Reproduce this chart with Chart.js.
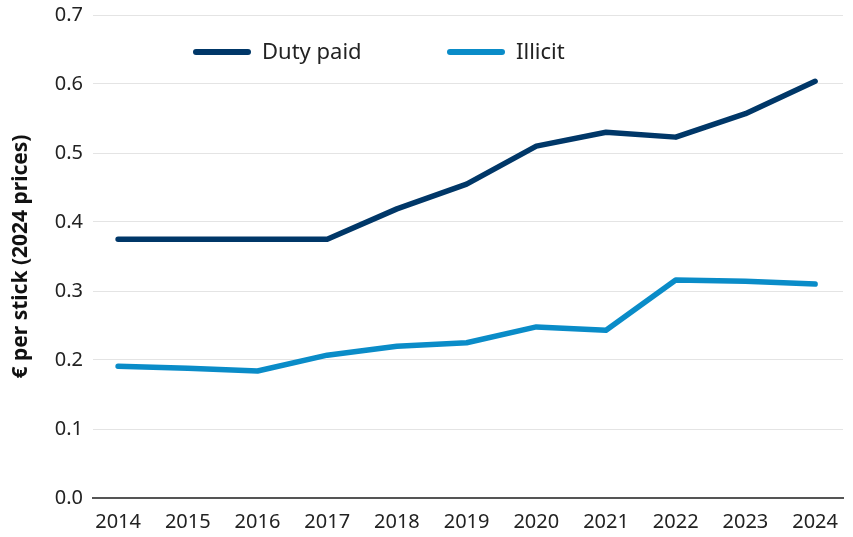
<!DOCTYPE html>
<html lang="en">
<head>
    <meta charset="UTF-8">
    <title>Duty paid vs illicit price per stick</title>
    <style>
        html, body {
            margin: 0;
            padding: 0;
            background: #FFFFFF;
        }
        .chart-box {
            width: 853px;
            height: 537px;
        }
    </style>
    <script src="https://cdn.jsdelivr.net/npm/chart.js"></script>
</head>
<body>
    <div class="chart-box">
        <canvas id="priceChart" width="853" height="537"></canvas>
    </div>

    <script>
        // Data
        const years = [2014, 2015, 2016, 2017, 2018, 2019, 2020, 2021, 2022, 2023, 2024];
        const dutyPaid = [0.375, 0.375, 0.375, 0.375, 0.419, 0.455, 0.510, 0.530, 0.523, 0.557, 0.604];
        const illicit = [0.191, 0.188, 0.184, 0.207, 0.220, 0.225, 0.248, 0.243, 0.316, 0.314, 0.310];
        const yTicks = [0, 0.1, 0.2, 0.3, 0.4, 0.5, 0.6, 0.7];

        const FONT = "'Noto Sans', sans-serif";

        // legend drawn inside the plot area, line swatches with round caps
        const insideLegend = {
            id: 'insideLegend',
            afterDraw(chart) {
                const c = chart.ctx;
                const spots = [193, 447];
                chart.data.datasets.forEach((ds, i) => {
                    const x = spots[i];
                    const y = 52;
                    c.save();
                    c.strokeStyle = ds.borderColor;
                    c.lineWidth = 6;
                    c.lineCap = 'round';
                    c.beginPath();
                    c.moveTo(x + 3, y);
                    c.lineTo(x + 55, y);
                    c.stroke();
                    c.fillStyle = '#222';
                    c.font = '22px ' + FONT;
                    c.textBaseline = 'middle';
                    c.fillText(ds.label, x + 69, y + 1);
                    c.restore();
                });
            }
        };

        const ctx = document.getElementById('priceChart').getContext('2d');
        const chart = new Chart(ctx, {
            type: 'line',
            data: {
                datasets: [{
                    label: 'Duty paid',
                    data: years.map((yr, i) => ({ x: yr, y: dutyPaid[i] })),
                    borderColor: '#003768',
                    borderWidth: 5.5,
                    pointRadius: 0,
                    borderCapStyle: 'round',
                    borderJoinStyle: 'round',
                    tension: 0
                }, {
                    label: 'Illicit',
                    data: years.map((yr, i) => ({ x: yr, y: illicit[i] })),
                    borderColor: '#0A8CC8',
                    borderWidth: 5.5,
                    pointRadius: 0,
                    borderCapStyle: 'round',
                    borderJoinStyle: 'round',
                    tension: 0
                }]
            },
            options: {
                responsive: false,
                animation: false,
                layout: { padding: { top: 15, right: 10, left: 0, bottom: 0 } },
                plugins: {
                    legend: { display: false },
                    tooltip: { enabled: false }
                },
                scales: {
                    x: {
                        type: 'linear',
                        min: 2013.64,
                        max: 2024.4,
                        afterBuildTicks: (axis) => { axis.ticks = years.map(v => ({ value: v })); },
                        afterFit: (axis) => { axis.height = 39; },
                        grid: { display: false, drawTicks: false },
                        border: { display: true, color: '#555', width: 2 },
                        ticks: {
                            color: '#222',
                            padding: 12,
                            maxRotation: 0,
                            font: { family: FONT, size: 20 },
                            callback: (v) => String(v)
                        }
                    },
                    y: {
                        min: 0,
                        max: 0.7,
                        afterBuildTicks: (axis) => { axis.ticks = yTicks.map(v => ({ value: v })); },
                        afterFit: (axis) => {
                            axis.width = 93;
                            axis.paddingTop = 0;
                            axis.paddingBottom = 0;
                        },
                        grid: { color: '#E4E4E4', lineWidth: 1, drawTicks: false },
                        border: { display: false },
                        ticks: {
                            color: '#222',
                            padding: 10,
                            font: { family: FONT, size: 20 },
                            callback: (v) => v.toFixed(1)
                        },
                        title: {
                            display: true,
                            text: '€ per stick (2024 prices)',
                            color: '#111',
                            padding: { top: 8, bottom: 0 },
                            font: { family: FONT, size: 21, weight: 'bold' }
                        }
                    }
                }
            },
            plugins: [insideLegend]
        });
    </script>
</body>
</html>
